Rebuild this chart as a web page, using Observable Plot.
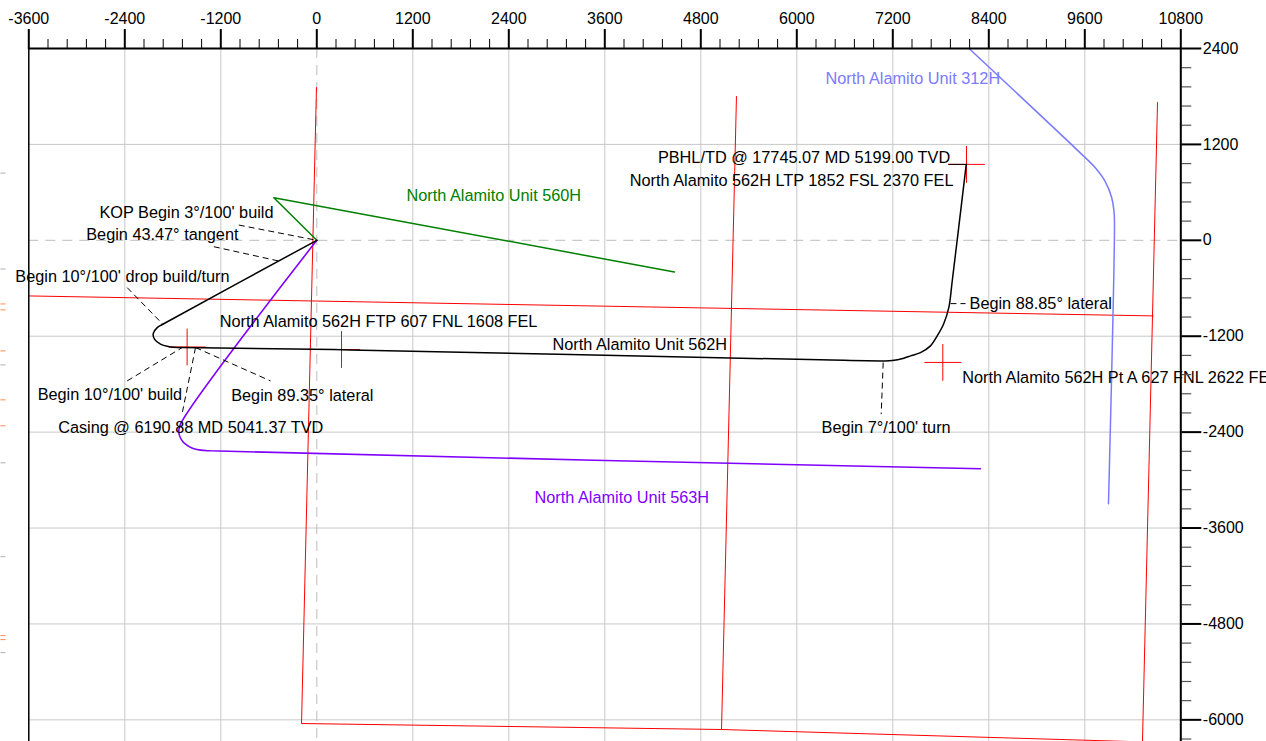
<!DOCTYPE html>
<html>
<head>
<meta charset="utf-8">
<script src="https://cdn.jsdelivr.net/npm/d3@7"></script>
<script src="https://cdn.jsdelivr.net/npm/@observablehq/plot@0.6"></script>
<style>
  html, body { margin: 0; padding: 0; background: #fff; overflow: hidden; }
  #chart svg { display: block; }
</style>
</head>
<body>
<div id="chart"></div>
<script>
// Plan view of the North Alamito wells: easting (x) and northing (y) in feet from the 562H surface location.

// Axis ticks
const xTicks = [-3600, -2400, -1200, 0, 1200, 2400, 3600, 4800, 6000, 7200, 8400, 9600, 10800];
const yTicks = [2400, 1200, 0, -1200, -2400, -3600, -4800, -6000];
const minorStep = 240;

// Section / lease lines
const sectionWest = [[-4, 1916], [-191, -6046]];
const sectionMid = [[5246, 1804], [5059, -6121]];
const sectionEast = [[10509, 1729], [10321, -6276]];
const sectionNorth = [[-3600, -696], [10459, -946]];
const sectionSouthA = [[-191, -6046], [5059, -6121]];
const sectionSouthB = [[5059, -6121], [10321, -6276]];

// Well paths
const well562H = [
  [0, 0], [-1925, -1050], [-1995, -1092], [-2045, -1167], [-2029, -1237], [-1954, -1300],
  [-1829, -1334], [-1683, -1342], [421, -1371], [6296, -1496], [7068, -1509], [7193, -1505],
  [7338, -1475], [7421, -1446], [7546, -1405], [7671, -1321], [7755, -1196], [7834, -1050],
  [7900, -843], [7943, -509], [8118, 950]
];
const well560H = [[0, 0], [-537, 533], [4471, -396]];
const well563H = [
  [0, 0], [-1704, -2300], [-1725, -2405], [-1691, -2496], [-1641, -2550], [-1554, -2602],
  [-1454, -2625], [-1329, -2634], [8296, -2859]
];
const well312H = [
  [8153, 2400], [9546, 1091], [9734, 904], [9859, 729], [9934, 541], [9965, 366],
  [9971, 216], [9896, -3296]
];

// Target points (FTP, LTP, Pt A, build) marked with crosses
const targetPts = [[8121, 950], [-1621, -1335], [309, -1366], [7825, -1528]];
const crossHalf = 230;

// Dashed leaders from annotation to survey point
const leaders = [
  [[-975, 191], [0, 0]],
  [[-1287, -80], [-475, -259]],
  [[-2370, -592], [-1925, -1050]],
  [[-2370, -1759], [-1683, -1342]],
  [[-1516, -1342], [-579, -1759]],
  [[-1516, -1342], [-1679, -2146]],
  [[7080, -1530], [7055, -2175]],
  [[7921, -792], [8109, -792]]
];
const pbhlLeader = [[7896, 950], [8121, 950]];

// Short stubs at the left edge of the sheet
const stubsGray = [841, -359, -1559, -2784, -3959, -5159];
const stubsOrange = [-796, -871, -1384, -1996, -2321, -4946, -4996];
const stubX = [-3954, -3891];

// Annotations
const annotations = [
  {text: "North Alamito Unit 312H", x: 6359, y: 2016, anchor: "start", color: "#7b7bff"},
  {text: "PBHL/TD @ 17745.07 MD 5199.00 TVD", x: 7917, y: 1029, anchor: "end", color: "#000"},
  {text: "North Alamito 562H LTP 1852 FSL 2370 FEL", x: 7958, y: 750, anchor: "end", color: "#000"},
  {text: "North Alamito Unit 560H", x: 1121, y: 554, anchor: "start", color: "#008000"},
  {text: "KOP Begin 3°/100' build", x: -541, y: 345, anchor: "end", color: "#000"},
  {text: "Begin 43.47° tangent", x: -979, y: 75, anchor: "end", color: "#000"},
  {text: "Begin 10°/100' drop build/turn", x: -1091, y: -459, anchor: "end", color: "#000"},
  {text: "North Alamito 562H FTP 607 FNL 1608 FEL", x: -1213, y: -1017, anchor: "start", color: "#000"},
  {text: "North Alamito Unit 562H", x: 2946, y: -1309, anchor: "start", color: "#000"},
  {text: "Begin 88.85° lateral", x: 8159, y: -800, anchor: "start", color: "#000"},
  {text: "North Alamito 562H Pt A 627 FNL 2622 FEL", x: 8067, y: -1725, anchor: "start", color: "#000"},
  {text: "Begin 10°/100' build", x: -1683, y: -1937, anchor: "end", color: "#000"},
  {text: "Begin 89.35° lateral", x: -1070, y: -1946, anchor: "start", color: "#000"},
  {text: "Casing @ 6190.88 MD 5041.37 TVD", x: -3233, y: -2342, anchor: "start", color: "#000"},
  {text: "Begin 7°/100' turn", x: 6309, y: -2342, anchor: "start", color: "#000"},
  {text: "North Alamito Unit 563H", x: 2721, y: -3221, anchor: "start", color: "#8000ff"}
];

const xMin = xTicks[0], xMax = xTicks[xTicks.length - 1];
const yMax = yTicks[0];
const gridX = xTicks.filter(d => d !== 0 && d !== xMin && d !== xMax);
const gridY = yTicks.filter(d => d !== 0 && d !== yMax);
const minorX = d3.range(xMin, xMax + 1, minorStep).filter(d => !xTicks.includes(d));
const minorY = d3.range(yMax, -6300, -minorStep).filter(d => !yTicks.includes(d));

const sections = [sectionWest, sectionMid, sectionEast, sectionNorth, sectionSouthA, sectionSouthB];
const px = d => d[0], py = d => d[1];
const seg = (arr) => ({x1: d => arr(d)[0][0], y1: d => arr(d)[0][1], x2: d => arr(d)[1][0], y2: d => arr(d)[1][1]});
const font = "'Liberation Sans', Arial, sans-serif";
const labelSize = 16.3;

const chart = Plot.plot({
  width: 1266,
  height: 741,
  marginLeft: 28.3,
  marginRight: 85.7,
  marginTop: 48,
  marginBottom: 0,
  x: {domain: [xMin, xMax], label: null},
  y: {domain: [-6271, yMax], label: null},
  style: {fontFamily: font, fontSize: "16px", background: "#fff", color: "#000"},
  marks: [
    // grid and zero lines
    Plot.ruleX(gridX, {stroke: "#c8c8c8", strokeWidth: 1}),
    Plot.ruleY(gridY, {stroke: "#c8c8c8", strokeWidth: 1}),
    Plot.ruleX([0], {stroke: "#bdbdbd", strokeWidth: 1, strokeDasharray: "10,7"}),
    Plot.ruleY([0], {stroke: "#bdbdbd", strokeWidth: 1, strokeDasharray: "10,7"}),

    // left-edge stubs
    Plot.link(stubsGray, {x1: stubX[0], x2: stubX[1], y1: d => d, y2: d => d, stroke: "#b0b0b0", strokeWidth: 1}),
    Plot.link(stubsOrange, {x1: stubX[0], x2: stubX[1], y1: d => d, y2: d => d, stroke: "#ff8a50", strokeWidth: 1}),

    // section lines
    Plot.link(sections, {...seg(d => d), stroke: "#ff0000", strokeWidth: 1}),

    // target crosses
    Plot.link(targetPts, {x1: d => d[0] - crossHalf, x2: d => d[0] + crossHalf, y1: py, y2: py, stroke: "#ff0000", strokeWidth: 1}),
    Plot.link(targetPts, {x1: px, x2: px, y1: d => d[1] - crossHalf, y2: d => d[1] + crossHalf, stroke: "#ff0000", strokeWidth: 1}),

    // well paths
    Plot.line(well560H, {x: px, y: py, stroke: "#008000", strokeWidth: 1.5}),
    Plot.line(well312H, {x: px, y: py, stroke: "#7b7bff", strokeWidth: 1.5, curve: "catmull-rom"}),
    Plot.line(well563H, {x: px, y: py, stroke: "#8000ff", strokeWidth: 1.6, curve: "catmull-rom"}),
    Plot.line(well562H, {x: px, y: py, stroke: "#000", strokeWidth: 1.5, curve: "catmull-rom"}),

    // annotation leaders
    Plot.link(leaders, {...seg(d => d), stroke: "#000", strokeWidth: 1, strokeDasharray: "6,4"}),
    Plot.link([pbhlLeader], {...seg(d => d), stroke: "#000", strokeWidth: 1}),

    // annotations
    Plot.text(annotations.filter(d => d.anchor === "start"), {
      x: "x", y: "y", text: "text", fill: "color", textAnchor: "start",
      lineAnchor: "middle", fontSize: labelSize, fontFamily: font
    }),
    Plot.text(annotations.filter(d => d.anchor === "end"), {
      x: "x", y: "y", text: "text", fill: "color", textAnchor: "end",
      lineAnchor: "middle", fontSize: labelSize, fontFamily: font
    }),

    // top axis
    Plot.axisX({anchor: "top", ticks: minorX, tickSize: 10, tickFormat: () => "", label: null, stroke: "#000", strokeWidth: 1}),
    Plot.axisX({anchor: "top", ticks: xTicks, tickSize: 20, tickPadding: 5, tickFormat: d => String(d), label: null,
      stroke: "#000", strokeWidth: 2, fontSize: 16, fill: "#000"}),

    // right axis
    Plot.axisY({anchor: "right", ticks: minorY, tickSize: 10, tickFormat: () => "", label: null, stroke: "#555", strokeWidth: 1.2}),
    Plot.axisY({anchor: "right", ticks: yTicks, tickSize: 20, tickPadding: 2, tickFormat: d => String(d), label: null,
      stroke: "#000", strokeWidth: 2, fontSize: 16, fill: "#000"}),

    // frame lines
    Plot.ruleY([yMax], {stroke: "#000", strokeWidth: 2}),
    Plot.ruleX([xMin], {stroke: "#000", strokeWidth: 1.5}),
    Plot.ruleX([xMax], {stroke: "#000", strokeWidth: 2})
  ]
});

document.getElementById("chart").appendChild(chart);
</script>
</body>
</html>
